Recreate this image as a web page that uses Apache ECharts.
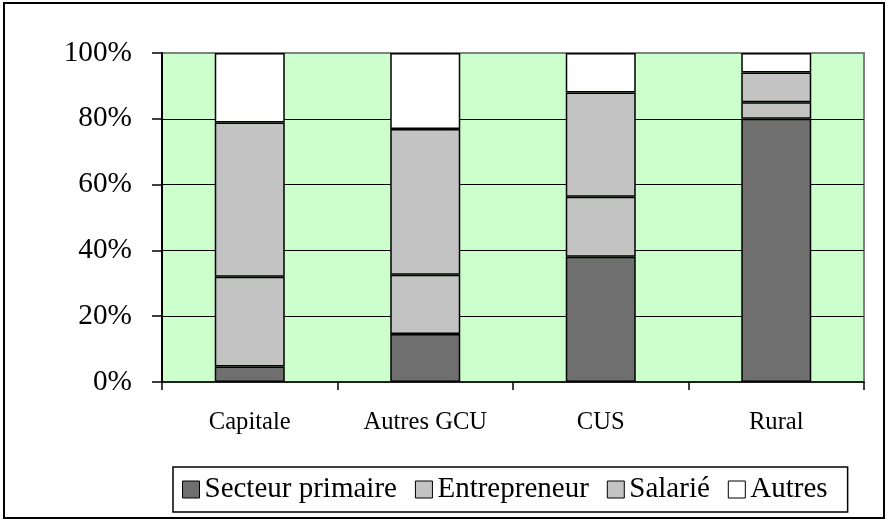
<!DOCTYPE html>
<html>
<head>
<meta charset="utf-8">
<script src="https://cdn.jsdelivr.net/npm/echarts@6/dist/echarts.min.js"></script>
<style>
  html, body { margin: 0; padding: 0; background: #fff; }
  #main { width: 887px; height: 522px; }
</style>
</head>
<body>
<div id="main"></div>
<script>
// données (en %)
const categories = ['Capitale', 'Autres GCU', 'CUS', 'Rural']
const seriesNames = ['Secteur primaire', 'Entrepreneur', 'Salarié', 'Autres']
const primaire = [4.7, 14.6, 38.1, 80.0]
const entrepreneur = [27.3, 18.0, 18.2, 5.0]
const salarie = [46.9, 44.3, 31.7, 9.1]
const autres = [21.1, 23.1, 12.0, 5.9]
const yTicks = [0, 20, 40, 60, 80, 100]

const colors = ['#6f6f6f', '#c3c3c3', '#c3c3c3', '#ffffff']
const font = "'Liberation Serif', 'Times New Roman', serif"

const chart = echarts.init(document.getElementById('main'))

const values = [primaire, entrepreneur, salarie, autres]
const series = seriesNames.map((name, i) => ({
  name: name,
  type: 'bar',
  stack: 'total',
  barWidth: 70,
  data: values[i],
  itemStyle: {
    color: colors[i],
    borderColor: '#000',
    borderWidth: 1.5
  },
  emphasis: { disabled: true }
}))

chart.setOption({
  animation: false,
  graphic: [{
    type: 'rect',
    shape: { x: 4, y: 3, width: 880, height: 515 },
    style: { fill: 'none', stroke: '#000', lineWidth: 2 },
    z: 100
  }],
  grid: {
    left: 162,
    right: 23,
    top: 53,
    bottom: 140,
    show: true,
    backgroundColor: '#ccffcc',
    borderColor: '#808080',
    borderWidth: 2
  },
  legend: {
    data: seriesNames,
    left: 173,
    top: 467,
    padding: [8, 20, 8, 9],
    borderColor: '#000',
    borderWidth: 1.5,
    itemWidth: 17,
    itemHeight: 17,
    itemGap: 18,
    icon: 'rect',
    itemStyle: { borderColor: '#000', borderWidth: 1 },
    textStyle: { fontFamily: font, fontSize: 29, color: '#000' }
  },
  xAxis: {
    type: 'category',
    data: categories,
    axisLine: { lineStyle: { color: '#000', width: 1.5 } },
    axisTick: { show: true, length: 8, lineStyle: { color: '#000', width: 1.5 } },
    axisLabel: { margin: 28, fontFamily: font, fontSize: 24.6, color: '#000' }
  },
  yAxis: {
    type: 'value',
    min: yTicks[0],
    max: yTicks[yTicks.length - 1],
    interval: yTicks[1] - yTicks[0],
    axisLine: { show: true, lineStyle: { color: '#000', width: 2 } },
    axisTick: { show: true, length: 10, lineStyle: { color: '#000', width: 1.5 } },
    axisLabel: {
      margin: 30,
      formatter: '{value}%',
      fontFamily: font,
      fontSize: 29.3,
      color: '#000'
    },
    splitLine: {
      show: true,
      showMinLine: false,
      showMaxLine: false,
      lineStyle: { color: '#000', width: 1 }
    }
  },
  series: series
})
</script>
</body>
</html>
